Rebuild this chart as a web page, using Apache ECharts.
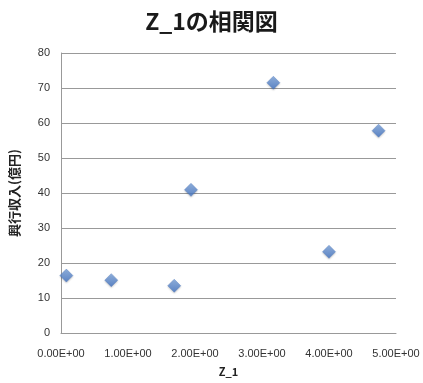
<!DOCTYPE html>
<html><head><meta charset="utf-8">
<script src="https://cdn.jsdelivr.net/npm/echarts@6/dist/echarts.min.js"></script>
<style>html,body{margin:0;padding:0;background:#fff}#c{width:423px;height:383px}</style>
</head><body><div id="c"></div>
<script>
const xValues = [0.08, 0.75, 1.69, 1.94, 3.17, 4.0, 4.74];
const yValues = [16.4, 15.1, 13.5, 40.9, 71.5, 23.2, 57.8];
const yTicks = [0, 10, 20, 30, 40, 50, 60, 70, 80];
const xTicks = [0, 1, 2, 3, 4, 5];
const title = 'Z_1の相関図';
const xName = 'Z_1';
const yName = '興行収入(億円)';

const chart = echarts.init(document.getElementById('c'));
const font = "'Noto Sans CJK JP', 'Liberation Sans', sans-serif";
chart.setOption({
  animation: false,
  title: { text: title, left: 'center', top: 5,
    textStyle: { fontFamily: font, fontSize: 23, fontWeight: 'bold', color: '#1a1a1a' } },
  grid: { left: 59, right: 27, top: 53, bottom: 50 },
  xAxis: { type: 'value', min: xTicks[0], max: xTicks[xTicks.length-1], interval: 1,
    name: xName, nameLocation: 'middle', nameGap: 33,
    nameTextStyle: { fontFamily: font, fontSize: 11, fontWeight: 'bold', color: '#222' },
    axisLine: { show: true, lineStyle: { color: '#999' } },
    axisTick: { show: false },
    splitLine: { show: false },
    axisLabel: { fontFamily: "'Liberation Sans', sans-serif", fontSize: 11, color: '#333', margin: 15,
      formatter: v => v.toFixed(2) + 'E+00' } },
  yAxis: { type: 'value', min: yTicks[0], max: yTicks[yTicks.length-1], interval: 10,
    name: yName, nameLocation: 'middle', nameGap: 40, nameRotate: 90,
    nameTextStyle: { fontFamily: font, fontSize: 13, fontWeight: 'bold', color: '#222' },
    axisLine: { show: true, lineStyle: { color: '#999' } },
    axisTick: { show: false },
    splitLine: { lineStyle: { color: '#999', width: 1 } },
    axisLabel: { fontFamily: "'Liberation Sans', sans-serif", fontSize: 11, color: '#333', margin: 11 } },
  series: [{
    type: 'scatter', symbol: 'diamond', symbolSize: 13,
    data: xValues.map((x, i) => [x, yValues[i]]),
    itemStyle: { color: new echarts.graphic.LinearGradient(0,0,0,1,[{offset:0,color:'#7fa7df'},{offset:1,color:'#3d6fbf'}]),
      borderColor: '#4a78c0', borderWidth: 0.5, shadowColor: 'rgba(0,0,0,0.25)', shadowBlur: 2, shadowOffsetY: 1 }
  }]
});
</script></body></html>
